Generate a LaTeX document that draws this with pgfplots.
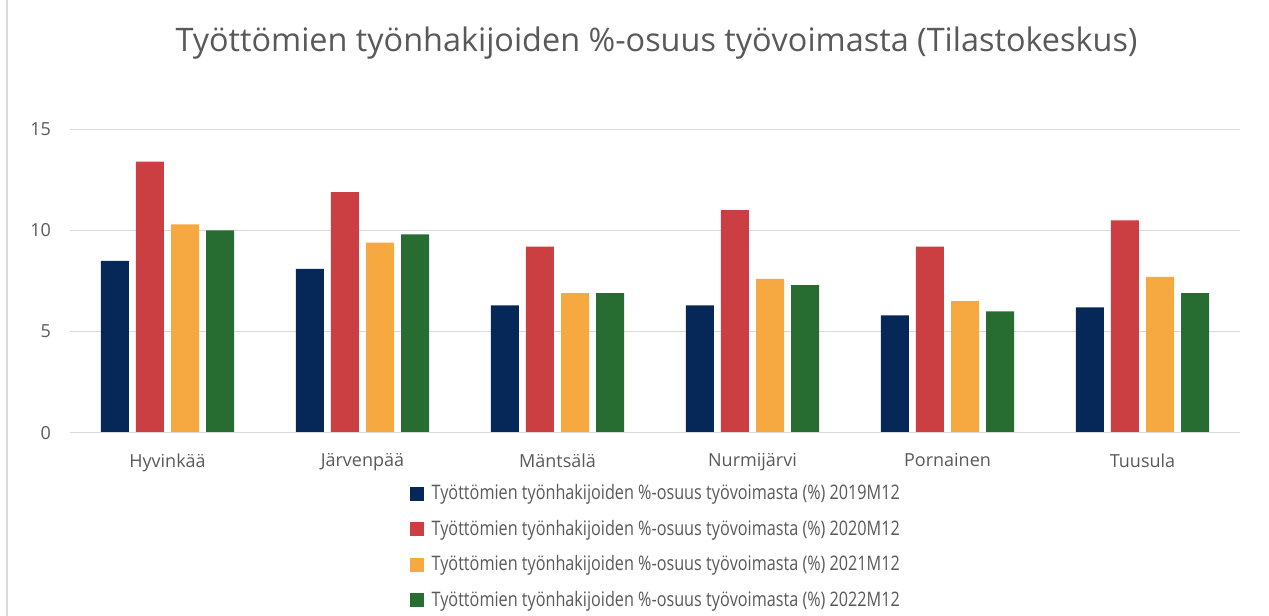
\documentclass[border=0pt]{standalone}
\usepackage{pgfplots}
\pgfplotsset{compat=1.18}
\usepackage{fontspec}
\setmainfont{Open Sans}
\newfontfamily\legfont[FakeStretch=0.81]{Open Sans}
\definecolor{cnavy}{RGB}{6,40,88}
\definecolor{cred}{RGB}{203,62,65}
\definecolor{corange}{RGB}{245,169,64}
\definecolor{cgreen}{RGB}{39,109,50}
\definecolor{ctext}{RGB}{89,89,89}
\definecolor{cgrid}{RGB}{217,217,217}
\begin{document}
\begin{tikzpicture}
\path[use as bounding box] (0bp,0bp) rectangle (634.5bp,-308bp);
\draw[cgrid, line width=0.75bp] (3.5bp,0bp) -- (3.5bp,-308bp);
\node[text=ctext, font=\fontsize{16.2bp}{19bp}\selectfont] at (328.25bp,-21.5bp) {Työttömien työnhakijoiden \%-osuus työvoimasta (Tilastokeskus)};
\begin{axis}[
  at={(35bp,-216.35bp)}, anchor=south west,
  scale only axis, width=585bp, height=151.7bp,
  xmin=-0.5, xmax=5.5, ymin=0, ymax=15,
  axis line style={draw=none},
  ymajorgrids, grid style={cgrid, line width=0.75bp},
  ytick={0,5,10,15},
  xtick={0,1,2,3,4,5},
  xticklabels={Hyvinkää,Järvenpää,Mäntsälä,Nurmijärvi,Pornainen,Tuusula},
  major tick length=0pt,
  tick label style={text=ctext, font=\fontsize{9bp}{11bp}\selectfont},
  xticklabel style={yshift=-7bp},
  yticklabel style={xshift=-6bp},
  /pgf/number format/assume math mode=true,
  ybar, bar width=0.1436,
  legend style={at={(0.29,-0.16)}, anchor=north west, draw=none, fill=none,
    font=\legfont\fontsize{10bp}{12bp}\selectfont, text=ctext,
    row sep=5.6bp, inner sep=0pt, nodes={inner sep=1.5bp}},
  legend cell align=left,
  legend image code/.code={\fill[#1] (0bp,-3.5bp) rectangle (7bp,3.5bp);},
]
\addplot[fill=cnavy, draw=none, bar shift=-0.27] coordinates {(0,8.5) (1,8.1) (2,6.3) (3,6.3) (4,5.8) (5,6.2)};
\addplot[fill=cred, draw=none, bar shift=-0.09] coordinates {(0,13.4) (1,11.9) (2,9.2) (3,11.0) (4,9.2) (5,10.5)};
\addplot[fill=corange, draw=none, bar shift=0.09] coordinates {(0,10.3) (1,9.4) (2,6.9) (3,7.6) (4,6.5) (5,7.7)};
\addplot[fill=cgreen, draw=none, bar shift=0.27] coordinates {(0,10.0) (1,9.8) (2,6.9) (3,7.3) (4,6.0) (5,6.9)};
\draw[cgrid, line width=0.75bp] (rel axis cs:0,0) -- (rel axis cs:1,0);
\legend{\hspace{2.5bp}Työttömien työnhakijoiden \%-osuus työvoimasta (\%) 2019M12,
        \hspace{2.5bp}Työttömien työnhakijoiden \%-osuus työvoimasta (\%) 2020M12,
        \hspace{2.5bp}Työttömien työnhakijoiden \%-osuus työvoimasta (\%) 2021M12,
        \hspace{2.5bp}Työttömien työnhakijoiden \%-osuus työvoimasta (\%) 2022M12}
\end{axis}
\end{tikzpicture}
\end{document}
